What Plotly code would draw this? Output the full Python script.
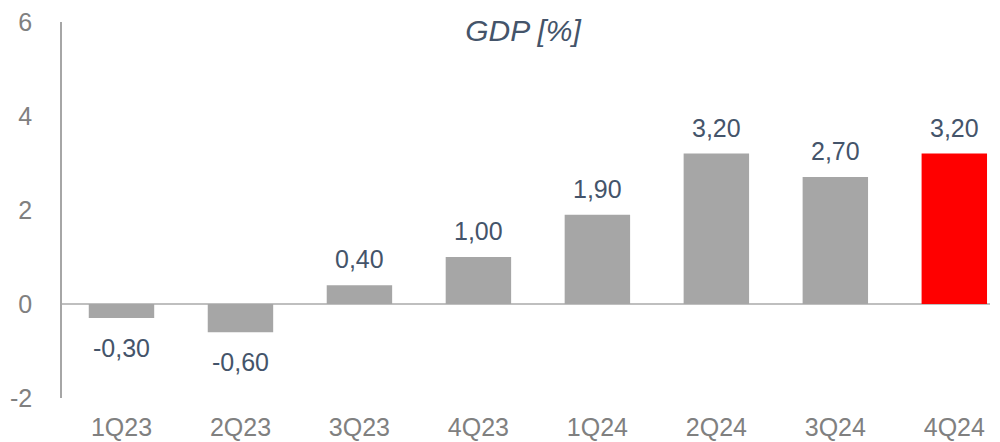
import plotly.graph_objects as go

quarters = ['1Q23', '2Q23', '3Q23', '4Q23', '1Q24', '2Q24', '3Q24', '4Q24']
gdp = [-0.30, -0.60, 0.40, 1.00, 1.90, 3.20, 2.70, 3.20]
labels = [f"{v:.2f}".replace('.', ',') for v in gdp]
colors = ['#A6A6A6'] * 7 + ['#FF0000']
y_ticks = [-2, 0, 2, 4, 6]

fig = go.Figure()

fig.add_trace(go.Bar(
    x=quarters,
    y=gdp,
    marker=dict(color=colors, line_width=0),
    width=0.55,
    hoverinfo='x+y',
))

# value labels, above positive bars and below negative ones
for q, v, lab in zip(quarters, gdp, labels):
    fig.add_annotation(
        x=q, y=v, text=lab, showarrow=False,
        yanchor='middle',
        yshift=26 if v >= 0 else -30,
        font=dict(size=25, color='#44546A'),
    )

fig.update_layout(
    width=1000,
    height=442,
    margin=dict(l=54, r=18, t=14, b=52),
    plot_bgcolor='white',
    paper_bgcolor='white',
    font=dict(family='Liberation Sans, Arial, sans-serif'),
    showlegend=False,
    title=dict(
        text='<i>GDP [%]</i>',
        x=0.515, xanchor='center',
        y=0.948, yanchor='middle',
        font=dict(size=30, color='#44546A'),
    ),
    xaxis=dict(
        range=[-0.5, 7.3],
        showgrid=False,
        showline=False,
        ticks='',
        ticklabelstandoff=12,
        automargin=False,
        tickfont=dict(size=25, color='#808080'),
    ),
    yaxis=dict(
        range=[-2, 6],
        tickvals=y_ticks,
        ticktext=[str(t) for t in y_ticks],
        showgrid=False,
        showline=True,
        linecolor='#A6A6A6',
        linewidth=1.5,
        zeroline=True,
        zerolinecolor='#BFBFBF',
        zerolinewidth=1.5,
        ticks='',
        ticklabelstandoff=23,
        ticklabeloverflow='allow',
        automargin=False,
        tickfont=dict(size=25, color='#808080'),
    ),
)

fig.write_html("out.html")
